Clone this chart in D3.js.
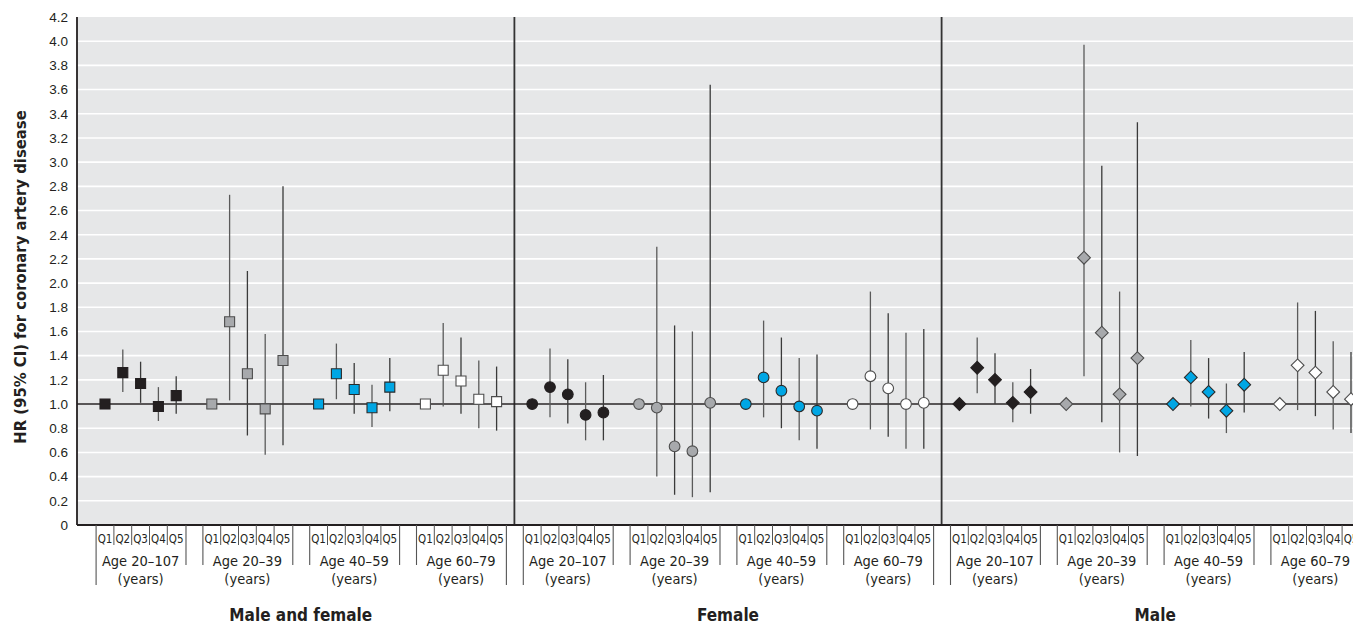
<!DOCTYPE html>
<html>
<head>
<meta charset="utf-8">
<script src="https://cdn.jsdelivr.net/npm/d3@7"></script>
<style>
  body { margin: 0; background: #fff; }
  svg { display: block; font-family: "Liberation Sans Narrow", "DejaVu Sans Condensed", "Roboto", sans-serif; font-stretch: condensed; }
  .ylabel { font-weight: bold; }
  .panel-label { font-weight: bold; }
</style>
</head>
<body>
<svg id="chart"></svg>
<script>
// data
const panels = ["Male and female", "Female", "Male"];
const ageGroups = ["Age 20–107", "Age 20–39", "Age 40–59", "Age 60–79"];
const quintiles = ["Q1", "Q2", "Q3", "Q4", "Q5"];
const yTicks = [0, 0.2, 0.4, 0.6, 0.8, 1.0, 1.2, 1.4, 1.6, 1.8, 2.0, 2.2, 2.4, 2.6, 2.8, 3.0, 3.2, 3.4, 3.6, 3.8, 4.0, 4.2];

// Male and female
const bothHR = [[1, 1.26, 1.17, 0.98, 1.07], [1, 1.68, 1.25, 0.96, 1.36], [1, 1.25, 1.12, 0.97, 1.14], [1, 1.28, 1.19, 1.04, 1.02]];
const bothLo = [[null, 1.10, 1.01, 0.86, 0.92], [null, 1.03, 0.74, 0.58, 0.66], [null, 1.04, 0.92, 0.81, 0.94], [null, 0.98, 0.92, 0.80, 0.78]];
const bothHi = [[null, 1.45, 1.35, 1.14, 1.23], [null, 2.73, 2.10, 1.58, 2.80], [null, 1.50, 1.34, 1.16, 1.38], [null, 1.67, 1.55, 1.36, 1.31]];

// Female
const femaleHR = [[1, 1.14, 1.08, 0.91, 0.93], [1, 0.97, 0.65, 0.61, 1.01], [1, 1.22, 1.11, 0.98, 0.945], [1, 1.23, 1.13, 1.00, 1.01]];
const femaleLo = [[null, 0.89, 0.84, 0.70, 0.70], [null, 0.40, 0.25, 0.23, 0.27], [null, 0.89, 0.80, 0.70, 0.63], [null, 0.79, 0.73, 0.63, 0.63]];
const femaleHi = [[null, 1.46, 1.37, 1.18, 1.24], [null, 2.30, 1.65, 1.60, 3.64], [null, 1.69, 1.55, 1.38, 1.41], [null, 1.93, 1.75, 1.59, 1.62]];

// Male
const maleHR = [[1, 1.30, 1.20, 1.01, 1.10], [1, 2.21, 1.59, 1.08, 1.38], [1, 1.22, 1.10, 0.945, 1.16], [1, 1.32, 1.26, 1.10, 1.04]];
const maleLo = [[null, 1.09, 1.00, 0.85, 0.92], [null, 1.23, 0.85, 0.60, 0.57], [null, 0.98, 0.88, 0.76, 0.93], [null, 0.95, 0.90, 0.79, 0.76]];
const maleHi = [[null, 1.55, 1.42, 1.18, 1.29], [null, 3.97, 2.97, 1.93, 3.33], [null, 1.53, 1.38, 1.17, 1.43], [null, 1.84, 1.77, 1.52, 1.43]];

const groupFill = ["#231f20", "#a7a9ac", "#00a6e4", "#ffffff"];
const groupStroke = ["#231f20", "#4d4d4d", "#2b2b2b", "#4d4d4d"];
// square, circle, diamond (square turned 45 degrees)
const shapes = [d3.symbolSquare, d3.symbolCircle, d3.symbolSquare];
const shapeSize = [100, 90, 82];
const shapeTurn = [0, 0, 45];

const width = 1353;
const height = 625;
const plotLeft = 77;
const plotTop = 17;
const plotBottom = 525;

const svg = d3.select("#chart")
    .attr("width", width)
    .attr("height", height);

// slot index: 6 slots per age group, 24 per panel
const slotsPerGroup = 6;
const slotsPerPanel = 24;
const xScale = d3.scaleLinear()
    .domain([0, 70])
    .range([105, 1351]);

const yScale = d3.scaleLinear()
    .domain([0, 4.2])
    .range([plotBottom, plotTop]);

const slot = (p, g, q) => p * slotsPerPanel + g * slotsPerGroup + q;

const hrSets = [bothHR, femaleHR, maleHR];
const loSets = [bothLo, femaleLo, maleLo];
const hiSets = [bothHi, femaleHi, maleHi];

const points = [];
panels.forEach((panel, p) => {
    ageGroups.forEach((age, g) => {
        quintiles.forEach((q, i) => {
            points.push({
                p: p, g: g, q: i,
                hr: hrSets[p][g][i],
                lo: loSets[p][g][i],
                hi: hiSets[p][g][i]
            });
        });
    });
});

// plot background
svg.append("rect")
    .attr("x", plotLeft)
    .attr("y", plotTop)
    .attr("width", width - plotLeft)
    .attr("height", plotBottom - plotTop)
    .attr("fill", "#e6e7e8");

// white gridlines
svg.append("g")
    .selectAll("line")
    .data(yTicks.filter(d => d > 0 && d < 4.2))
    .enter()
    .append("line")
    .attr("x1", plotLeft)
    .attr("x2", width)
    .attr("y1", d => yScale(d))
    .attr("y2", d => yScale(d))
    .attr("stroke", "#ffffff")
    .attr("stroke-width", 1.6);

// y axis labels
const yAxis = d3.axisLeft(yScale)
    .tickValues(yTicks)
    .tickSize(0)
    .tickPadding(9)
    .tickFormat(d => d === 0 ? "0" : d.toFixed(1));

const yg = svg.append("g")
    .attr("transform", `translate(${plotLeft}, 0)`)
    .call(yAxis);
yg.select(".domain").remove();
yg.selectAll("text")
    .attr("font-size", 13.5)
    .attr("font-family", null)
    .attr("fill", "#231f20");

svg.append("text")
    .attr("class", "ylabel")
    .attr("transform", `translate(26, ${(plotTop + plotBottom) / 2 + 6}) rotate(-90)`)
    .attr("text-anchor", "middle")
    .attr("font-size", 16.5)
    .attr("fill", "#231f20")
    .text("HR (95% CI) for coronary artery disease");

// panel dividers
svg.append("g")
    .selectAll("line")
    .data([1, 2])
    .enter()
    .append("line")
    .attr("x1", d => xScale(d * slotsPerPanel - 1))
    .attr("x2", d => xScale(d * slotsPerPanel - 1))
    .attr("y1", plotTop)
    .attr("y2", plotBottom)
    .attr("stroke", "#333")
    .attr("stroke-width", 1.8);

// reference line at HR = 1
svg.append("line")
    .attr("x1", plotLeft)
    .attr("x2", width)
    .attr("y1", yScale(1))
    .attr("y2", yScale(1))
    .attr("stroke", "#231f20")
    .attr("stroke-width", 1.4);

// confidence intervals
svg.append("g")
    .selectAll("line")
    .data(points.filter(d => d.lo !== null))
    .enter()
    .append("line")
    .attr("x1", d => xScale(slot(d.p, d.g, d.q)))
    .attr("x2", d => xScale(slot(d.p, d.g, d.q)))
    .attr("y1", d => yScale(d.lo))
    .attr("y2", d => yScale(d.hi))
    .attr("stroke", (d, i) => i % 2 ? "#3a3a3a" : "#5a5a5a")
    .attr("stroke-width", 1.3);

// point estimates
svg.append("g")
    .selectAll("path")
    .data(points)
    .enter()
    .append("path")
    .attr("transform", d => `translate(${xScale(slot(d.p, d.g, d.q))}, ${yScale(d.hr)}) rotate(${shapeTurn[d.p]})`)
    .attr("d", d => d3.symbol().type(shapes[d.p]).size(shapeSize[d.p])())
    .attr("fill", d => groupFill[d.g])
    .attr("stroke", d => groupStroke[d.g])
    .attr("stroke-width", 1.1);

// axes lines
svg.append("line")
    .attr("x1", plotLeft).attr("x2", width)
    .attr("y1", plotBottom).attr("y2", plotBottom)
    .attr("stroke", "#231f20").attr("stroke-width", 1.8);
svg.append("line")
    .attr("x1", plotLeft).attr("x2", plotLeft)
    .attr("y1", plotTop).attr("y2", plotBottom)
    .attr("stroke", "#231f20").attr("stroke-width", 1.8);

// category axis below the plot
const cat = svg.append("g").attr("fill", "#231f20");
const sepColor = "#555";

panels.forEach((panel, p) => {
    ageGroups.forEach((age, g) => {
        const base = slot(p, g, 0);
        // quintile labels and separators
        quintiles.forEach((q, i) => {
            cat.append("text")
                .attr("x", xScale(base + i))
                .attr("y", plotBottom + 18)
                .attr("text-anchor", "middle")
                .attr("font-size", 11.5)
                .text(q);
            if (i > 0) {
                cat.append("line")
                    .attr("x1", xScale(base + i - 0.5))
                    .attr("x2", xScale(base + i - 0.5))
                    .attr("y1", plotBottom)
                    .attr("y2", plotBottom + 20)
                    .attr("stroke", sepColor)
                    .attr("stroke-width", 1);
            }
        });
        // group boundaries
        const leftLen = g === 0 ? 60 : 40;
        const rightLen = g === ageGroups.length - 1 ? 60 : 40;
        cat.append("line")
            .attr("x1", xScale(base - 0.5)).attr("x2", xScale(base - 0.5))
            .attr("y1", plotBottom).attr("y2", plotBottom + leftLen)
            .attr("stroke", sepColor).attr("stroke-width", 1.1);
        cat.append("line")
            .attr("x1", xScale(base + 4.55)).attr("x2", xScale(base + 4.55))
            .attr("y1", plotBottom).attr("y2", plotBottom + rightLen)
            .attr("stroke", sepColor).attr("stroke-width", 1.1);
        // group labels
        cat.append("text")
            .attr("x", xScale(base + 2))
            .attr("y", plotBottom + 41)
            .attr("text-anchor", "middle")
            .attr("font-size", 14.5)
            .text(age);
        cat.append("text")
            .attr("x", xScale(base + 2))
            .attr("y", plotBottom + 59)
            .attr("text-anchor", "middle")
            .attr("font-size", 14.5)
            .text("(years)");
    });
    // panel label
    cat.append("text")
        .attr("class", "panel-label")
        .attr("x", (xScale(slot(p, 0, 2)) + xScale(slot(p, 3, 2))) / 2)
        .attr("y", plotBottom + 96)
        .attr("text-anchor", "middle")
        .attr("font-size", 17)
        .text(panel);
});
</script>
</body>
</html>
